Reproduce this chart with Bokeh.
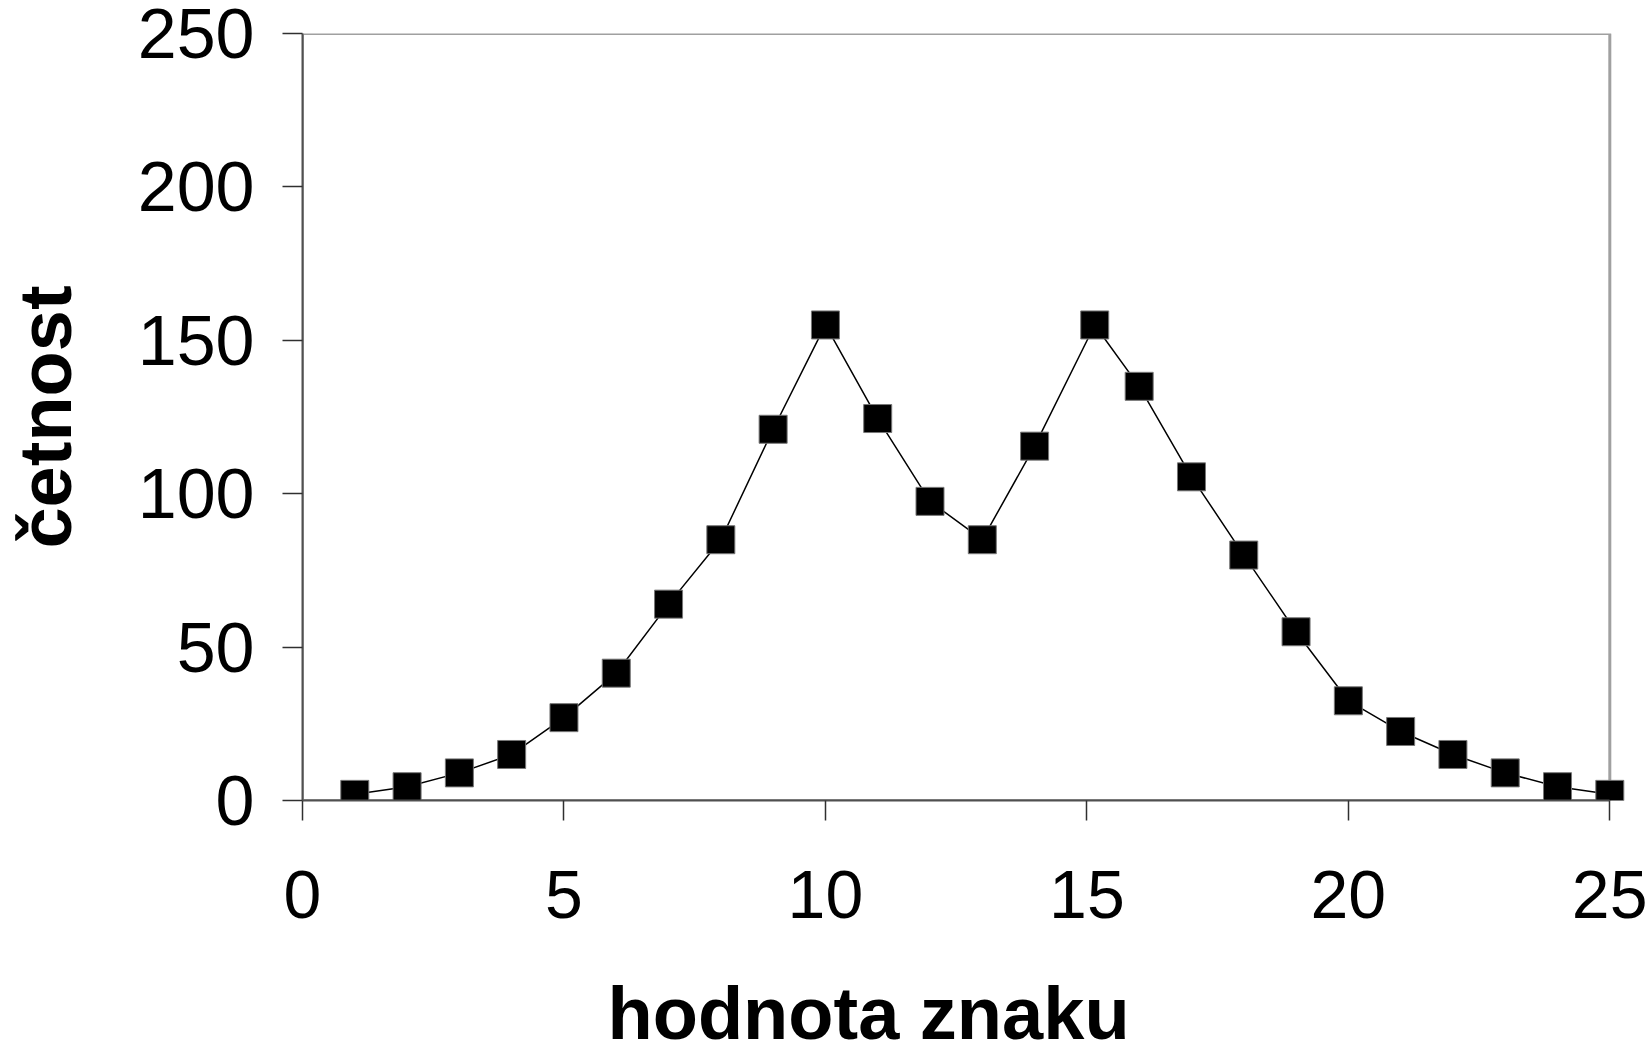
from bokeh.plotting import figure
from bokeh.models import Range1d, BoxAnnotation, FixedTicker, Title
from bokeh.embed import file_html
from bokeh.resources import INLINE

# data
x_vals = [1, 2, 3, 4, 5, 6, 7, 8, 9, 10, 11, 12, 13, 14, 15.15, 16, 17, 18, 19, 20, 21, 22, 23, 24, 25]
counts = [2, 4.5, 9, 15, 27, 41.5, 64, 85, 121, 155, 124.5, 97.5, 85, 115.5, 155, 135, 105.5, 80, 55, 32.5, 22.5, 15, 9, 4.5, 2]
x_ticks = [0, 5, 10, 15, 20, 25]
y_ticks = [0, 50, 100, 150, 200, 250]
x_title = "hodnota znaku"
y_title = "četnost"

FONT = "Liberation Sans"

p = figure(width=1647, height=1055,
           x_range=Range1d(0, 25.3), y_range=Range1d(0, 250),
           output_backend="svg", toolbar_location=None,
           min_border_left=287, min_border_right=22,
           min_border_top=33, min_border_bottom=255)
p.xgrid.visible = False
p.ygrid.visible = False
p.outline_line_color = None
p.background_fill_color = "white"
p.border_fill_color = "white"

border = BoxAnnotation(left=0, right=25, bottom=0, top=250,
                       fill_color=None, fill_alpha=0,
                       line_color="#a0a0a0", line_alpha=1.0, line_width=3,
                       level="underlay")
p.add_layout(border)

for ax in (p.xaxis, p.yaxis):
    ax.axis_line_color = "#505050"
    ax.axis_line_width = 2
    ax.major_tick_line_color = "#303030"
    ax.major_tick_line_width = 1.5
    ax.major_tick_out = 20
    ax.major_tick_in = 0
    ax.minor_tick_line_color = None
    ax.major_label_text_font = FONT
    ax.major_label_text_color = "black"

p.xaxis.major_label_text_font_size = "68px"
p.yaxis.major_label_text_font_size = "70px"
p.xaxis.ticker = FixedTicker(ticks=x_ticks)
p.yaxis.ticker = FixedTicker(ticks=y_ticks)
p.xaxis.bounds = (0, 25)
p.yaxis.bounds = (0, 250)
p.xaxis.major_label_standoff = 50
p.yaxis.major_label_standoff = 28

p.yaxis.axis_label = y_title
p.yaxis.axis_label_text_font = FONT
p.yaxis.axis_label_text_font_size = "74px"
p.yaxis.axis_label_text_font_style = "bold"
p.yaxis.axis_label_text_color = "black"
p.yaxis.axis_label_standoff = 48

p.line(x_vals, counts, line_color="black", line_width=1.5)
p.scatter(x_vals, counts, marker="square", size=28,
          fill_color="black", line_color="#777777", line_width=1)

# thin spacer panel between the tick labels and the x-axis title
spacer = Title(text=" ", text_font_size="1px", standoff=46, text_color="white")
p.add_layout(spacer, "below")

xt = Title(text=x_title, align="left", offset=305, standoff=0,
           vertical_align="bottom",
           text_font=FONT, text_font_size="74px", text_font_style="bold",
           text_color="black")
p.add_layout(xt, "below")

open("out.html", "w").write(file_html(p, INLINE))
